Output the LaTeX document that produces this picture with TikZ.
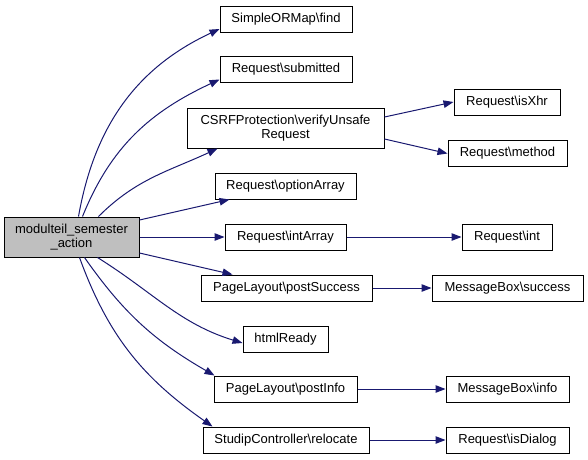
\documentclass[tikz,border=0pt]{standalone}
\usepackage{fontspec}
\setmainfont{Liberation Sans}
\usetikzlibrary{arrows.meta}
\definecolor{edgecol}{HTML}{191970}
\definecolor{mainfill}{HTML}{BFBFBF}
\begin{document}
\begin{tikzpicture}[x=1pt,y=-1pt,
  box/.style={draw=black,line width=1pt,fill=white,inner sep=0pt,minimum height=26pt,font=\fontsize{13}{14.5}\selectfont,align=center},
  edge/.style={draw=edgecol,line width=1pt,-{Triangle[length=10pt,width=7.5pt]},edgecol}]
\useasboundingbox (0,0) rectangle (588,459);
% level 0
\node[box,fill=mainfill,minimum width=135pt,minimum height=40pt] (main) at (71.5,237) {modulteil\_semester\\\_action};
% level 1
\node[box,minimum width=132pt] (find) at (286,19) {SimpleORMap\textbackslash find};
\node[box,minimum width=132pt] (submitted) at (286,69.5) {Request\textbackslash submitted};
\node[box,minimum width=197pt,minimum height=40pt] (csrf) at (285.5,128) {CSRFProtection\textbackslash verifyUnsafe\\Request};
\node[box,minimum width=141pt] (optarr) at (285.5,186) {Request\textbackslash optionArray};
\node[box,minimum width=121pt] (intarr) at (285.5,237) {Request\textbackslash intArray};
\node[box,minimum width=171pt] (postsucc) at (286.5,288) {PageLayout\textbackslash postSuccess};
\node[box,minimum width=85pt] (html) at (285.5,339) {htmlReady};
\node[box,minimum width=143pt] (postinfo) at (285.5,389) {PageLayout\textbackslash postInfo};
\node[box,minimum width=166pt] (reloc) at (286,440) {StudipController\textbackslash relocate};
% level 2
\node[box,minimum width=106pt] (isxhr) at (507,102) {Request\textbackslash isXhr};
\node[box,minimum width=119pt] (method) at (507.5,153.5) {Request\textbackslash method};
\node[box,minimum width=90pt] (int) at (507,237) {Request\textbackslash int};
\node[box,minimum width=151pt] (succ) at (507.5,288) {MessageBox\textbackslash success};
\node[box,minimum width=123pt] (info) at (507.5,389) {MessageBox\textbackslash info};
\node[box,minimum width=123pt] (isdialog) at (507.5,440) {Request\textbackslash isDialog};
% edges from main
\draw[edge] ([xshift=75pt]main.north west) to[out=80,in=205] ([yshift=-10pt]find.west);
\draw[edge] ([xshift=79pt]main.north west) to[out=68,in=205] ([yshift=-10pt]submitted.west);
\draw[edge] ([xshift=95pt]main.north west) to[out=45,in=205] ([xshift=31pt]csrf.south west);
\draw[edge] ([yshift=17pt]main.east) -- ([xshift=15pt]optarr.south west);
\draw[edge] (main.east) -- (intarr.west);
\draw[edge] ([yshift=-16pt]main.east) -- ([xshift=32pt]postsucc.north west);
\draw[edge] ([xshift=94pt]main.south west) to[out=-32,in=163] ([yshift=-4pt]html.west);
\draw[edge] ([xshift=81pt]main.south west) to[out=-55,in=150] ([xshift=1pt]postinfo.north west);
\draw[edge] ([xshift=76pt]main.south west) to[out=-70,in=145] ([xshift=10pt]reloc.north west);
% edges level 2
\draw[edge] ([yshift=11pt]csrf.east) -- (isxhr.west);
\draw[edge] ([yshift=-11pt]csrf.east) -- (method.west);
\draw[edge] (intarr.east) -- (int.west);
\draw[edge] (postsucc.east) -- (succ.west);
\draw[edge] (postinfo.east) -- (info.west);
\draw[edge] (reloc.east) -- (isdialog.west);
\end{tikzpicture}
\end{document}
